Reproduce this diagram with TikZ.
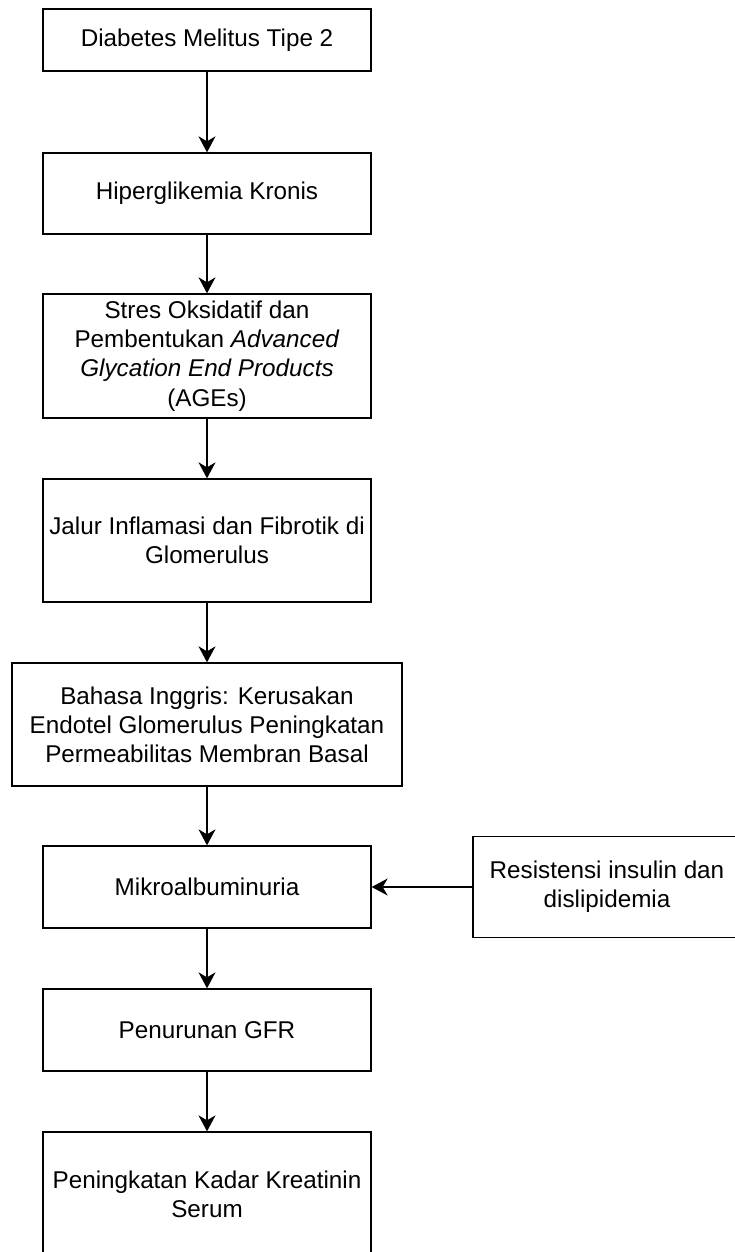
\documentclass[tikz,border=0pt]{standalone}
\usepackage{fontspec}
\setmainfont{Liberation Sans}
\usetikzlibrary{arrows.meta, positioning}

\tikzset{
    box/.style={draw, line width=0.75pt, align=center, inner sep=2pt,
        minimum width=6.56cm, font=\fontsize{13.8}{16.6}\selectfont},
    arr/.style={-{Stealth[length=0.32cm, width=0.34cm, inset=0.1cm]}, line width=0.75pt}
}

\begin{document}
\begin{tikzpicture}
    \useasboundingbox (0, 0) rectangle (14.68, -25.04);

    \node[box, minimum height=1.24cm] (dm) at (4.14, -0.80) {Diabetes Melitus Tipe 2};
    \node[box, minimum height=1.62cm] (hiper) at (4.14, -3.87) {Hiperglikemia Kronis};
    \node[box, minimum height=2.48cm] (stres) at (4.14, -7.12) {Stres Oksidatif dan\\Pembentukan \textit{Advanced}\\\textit{Glycation End Products}\\(AGEs)};
    \node[box, minimum height=2.46cm] (jalur) at (4.14, -10.81) {Jalur Inflamasi dan Fibrotik di\\Glomerulus};
    \node[box, minimum height=2.46cm, minimum width=7.80cm] (endotel) at (4.14, -14.49) {Bahasa Inggris: Kerusakan\\Endotel Glomerulus Peningkatan\\Permeabilitas Membran Basal};
    \node[box, minimum height=1.64cm] (mikro) at (4.14, -17.74) {Mikroalbuminuria};
    \node[box, minimum height=1.64cm] (gfr) at (4.14, -20.60) {Penurunan GFR};
    \node[box, minimum height=2.48cm] (kreat) at (4.14, -23.88) {Peningkatan Kadar Kreatinin\\Serum};

    \node[box, minimum height=2.02cm, minimum width=5.36cm] (resist) at (12.14, -17.74) {Resistensi insulin dan\\dislipidemia};

    \draw[arr] (dm.south) -- (hiper.north);
    \draw[arr] (hiper.south) -- (stres.north);
    \draw[arr] (stres.south) -- (jalur.north);
    \draw[arr] (jalur.south) -- (endotel.north);
    \draw[arr] (endotel.south) -- (mikro.north);
    \draw[arr] (mikro.south) -- (gfr.north);
    \draw[arr] (gfr.south) -- (kreat.north);
    \draw[arr] (resist.west) -- (mikro.east);
\end{tikzpicture}
\end{document}
